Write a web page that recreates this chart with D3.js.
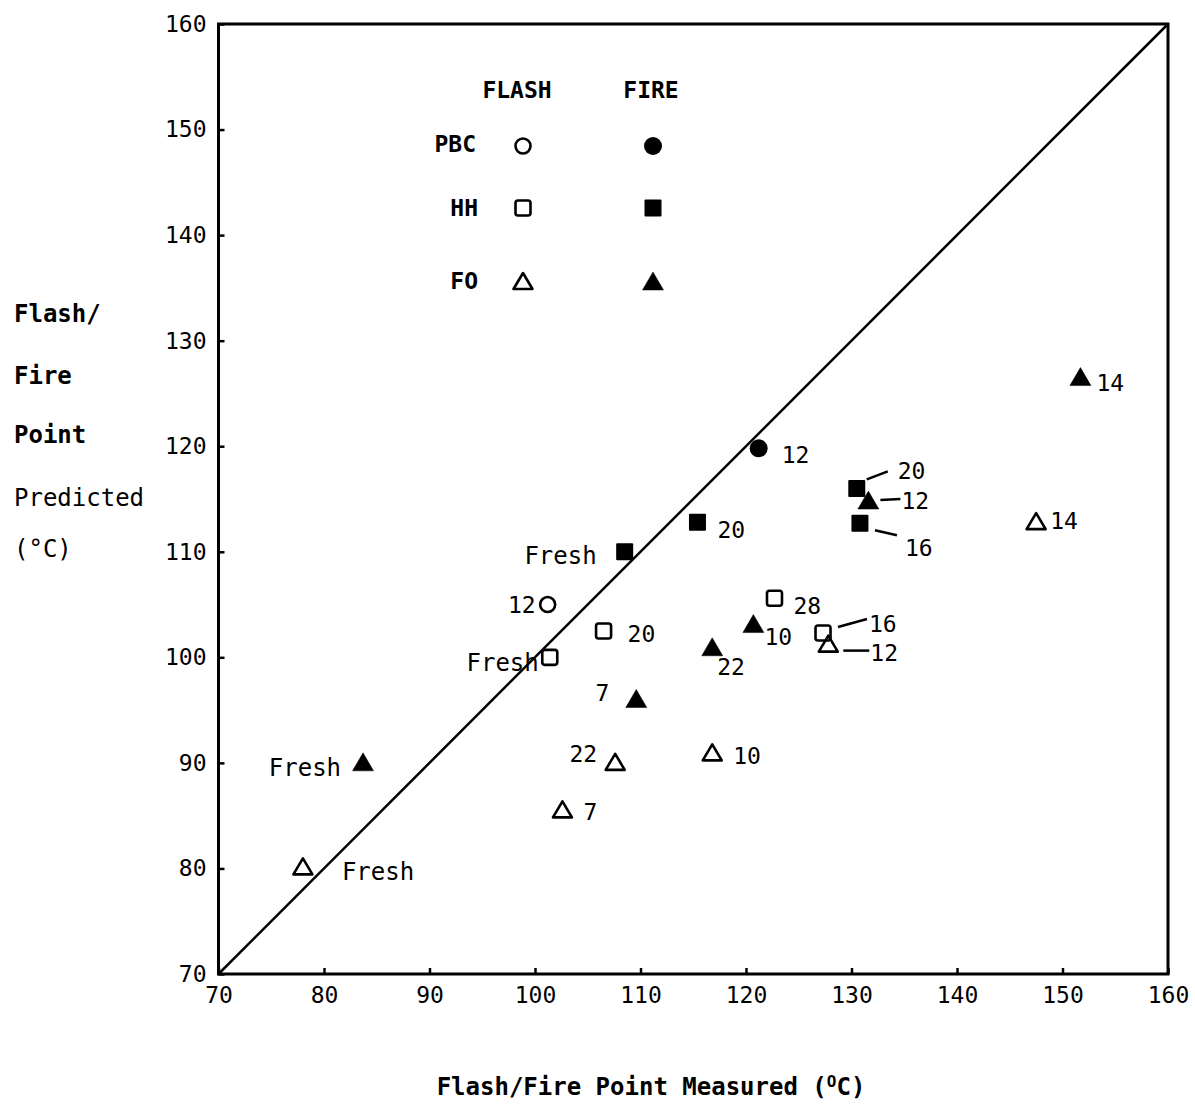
<!DOCTYPE html>
<html><head><meta charset="utf-8">
<script src="https://cdn.jsdelivr.net/npm/d3@7"></script>
<style>body{margin:0;background:#fff}svg{display:block}text{font-family:"DejaVu Sans Mono",monospace;fill:#000}</style>
</head><body>
<svg id="c" width="1195" height="1110"></svg>
<script>
// ---- data ----
const xTicks = [70,80,90,100,110,120,130,140,150,160];
const yTicks = [70,80,90,100,110,120,130,140,150,160];
// PBC
const pbcFlashX = [101.2], pbcFlashY = [105.0], pbcFlashLbl = ["12"];
const pbcFireX = [121.2], pbcFireY = [119.8], pbcFireLbl = ["12"];
// HH
const hhFlashX = [101.4, 106.5, 122.7, 127.3];
const hhFlashY = [100.0, 102.5, 105.6, 102.3];
const hhFlashLbl = ["Fresh","20","28","16"];
const hhFireX = [108.5, 115.4, 130.5, 130.8];
const hhFireY = [110.0, 112.8, 116.0, 112.7];
const hhFireLbl = ["Fresh","20","20","16"];
// FO
const foFlashX = [78.0, 102.6, 107.6, 116.8, 127.8, 147.5];
const foFlashY = [80.2, 85.6, 90.1, 91.0, 101.3, 112.9];
const foFlashLbl = ["Fresh","7","22","10","12","14"];
const foFireX = [83.7, 109.6, 116.8, 120.7, 131.6, 151.7];
const foFireY = [90.1, 96.1, 101.0, 103.2, 114.9, 126.6];
const foFireLbl = ["Fresh","7","22","10","12","14"];

// ---- label layout (pixel offsets from marker: text dx,dy,anchor, optional leader) ----
const pbcFlashLay = [[-12,8,"end"]];
const pbcFireLay = [[23,15,"start"]];
const hhFlashLay = [[-11,14,"end"],[24,11,"start"],[19,16,"start"],[46,-1,"start",[15,-6,44,-14]]];
const hhFireLay = [[-28,12,"end"],[20,16,"start"],[41,-9,"start",[10,-9,31,-17]],[45,33,"start",[15,7,37,12]]];
const foFlashLay = [[39,14,"start"],[21,11,"start"],[-18,0,"end"],[21,12,"start"],[42,17,"start",[15,7,41,7]],[14,8,"start"]];
const foFireLay = [[-22,14,"end"],[-27,2,"end"],[5,28,"start"],[11,21,"start"],[33,9,"start",[12,0,32,-1]],[16,14,"start"]];

const svg = d3.select("#c");
const L = 218.5, R = 1168, T = 24, B = 974;
const x = d3.scaleLinear().domain([70,160]).range([L,R]);
const y = d3.scaleLinear().domain([70,160]).range([B,T]);

// frame
svg.append("rect").attr("x",L).attr("y",T).attr("width",R-L).attr("height",B-T)
  .attr("fill","none").attr("stroke","#000").attr("stroke-width",3);

// axes
const gx = svg.append("g").attr("transform",`translate(0,${B})`)
  .call(d3.axisBottom(x).tickValues(xTicks).tickFormat(d3.format("d")).tickSizeInner(-6).tickSizeOuter(0).tickPadding(13));
const gy = svg.append("g").attr("transform",`translate(${L},0)`)
  .call(d3.axisLeft(y).tickValues(yTicks).tickFormat(d3.format("d")).tickSizeInner(-6).tickSizeOuter(0).tickPadding(12));
[gx,gy].forEach(g=>{
  g.select(".domain").remove();
  g.selectAll(".tick line").attr("stroke","#000").attr("stroke-width",2.5);
  g.selectAll(".tick text").style("font-family","'DejaVu Sans Mono',monospace").style("font-size","23px").attr("fill","#000");
});

// diagonal
svg.append("line").attr("x1",x(70)).attr("y1",y(70)).attr("x2",x(160)).attr("y2",y(160))
  .attr("stroke","#000").attr("stroke-width",2.5);

// symbols
function drawSym(g, kind, filled){
  if(kind==="circle"){
    g.append("circle").attr("r",filled?9:7.5)
      .attr("fill",filled?"#000":"none").attr("stroke","#000").attr("stroke-width",filled?0:2.6);
  } else if(kind==="square"){
    const s = filled?17:15;
    g.append("rect").attr("x",-s/2).attr("y",-s/2).attr("width",s).attr("height",s).attr("rx",filled?1:2.5)
      .attr("fill",filled?"#000":"none").attr("stroke","#000").attr("stroke-width",filled?0:2.6);
  } else {
    const p = filled ? "M0,-9L10.5,9L-10.5,9Z" : "M0,-8L9.5,8L-9.5,8Z";
    g.append("path").attr("d",p).attr("fill",filled?"#000":"none").attr("stroke","#000")
      .attr("stroke-width",filled?0.5:2.6).attr("stroke-linejoin","round");
  }
}

function series(xs, ys, lbls, lay, kind, filled){
  xs.forEach((v,i)=>{
    const cx = x(v), cy = y(ys[i]);
    const g = svg.append("g").attr("transform",`translate(${cx},${cy})`);
    drawSym(g, kind, filled);
    const l = lay[i];
    if(l[3]){
      svg.append("line").attr("x1",cx+l[3][0]).attr("y1",cy+l[3][1]).attr("x2",cx+l[3][2]).attr("y2",cy+l[3][3])
        .attr("stroke","#000").attr("stroke-width",2.5);
    }
    svg.append("text").attr("x",cx+l[0]).attr("y",cy+l[1]).attr("text-anchor",l[2])
      .style("font-size", lbls[i]==="Fresh" ? "24px" : "23px").text(lbls[i]);
  });
}
series(pbcFlashX,pbcFlashY,pbcFlashLbl,pbcFlashLay,"circle",false);
series(pbcFireX,pbcFireY,pbcFireLbl,pbcFireLay,"circle",true);
series(hhFlashX,hhFlashY,hhFlashLbl,hhFlashLay,"square",false);
series(hhFireX,hhFireY,hhFireLbl,hhFireLay,"square",true);
series(foFlashX,foFlashY,foFlashLbl,foFlashLay,"triangle",false);
series(foFireX,foFireY,foFireLbl,foFireLay,"triangle",true);

// legend
const leg = svg.append("g");
leg.append("text").attr("x",517).attr("y",98).attr("text-anchor","middle").style("font-size","23px").style("font-weight","bold").text("FLASH");
leg.append("text").attr("x",651).attr("y",98).attr("text-anchor","middle").style("font-size","23px").style("font-weight","bold").text("FIRE");
const legRows = [["PBC","circle",146,152,476],["HH","square",208,216,478],["FO","triangle",281,289,478]];
legRows.forEach(r=>{
  leg.append("text").attr("x",r[4]).attr("y",r[3]).attr("text-anchor","end").style("font-size","23px").style("font-weight","bold").text(r[0]);
  drawSym(leg.append("g").attr("transform",`translate(523,${r[2]})`), r[1], false);
  drawSym(leg.append("g").attr("transform",`translate(653,${r[2]})`), r[1], true);
});

// y axis title
const yt = [["Flash/",322,true],["Fire",384,true],["Point",443,true],["Predicted",506,false],["(°C)",557,false]];
yt.forEach(t=>{
  svg.append("text").attr("x",14).attr("y",t[1]).style("font-size","24px").style("font-weight",t[2]?"bold":"normal").text(t[0]);
});

// x axis title
const xt = svg.append("text").attr("x",651).attr("y",1095).attr("text-anchor","middle")
  .style("font-size","24px").style("font-weight","bold");
xt.append("tspan").text("Flash/Fire Point Measured (");
xt.append("tspan").attr("dy",-8).style("font-size","16px").text("O");
xt.append("tspan").attr("dy",8).text("C)");
</script>
</body></html>
